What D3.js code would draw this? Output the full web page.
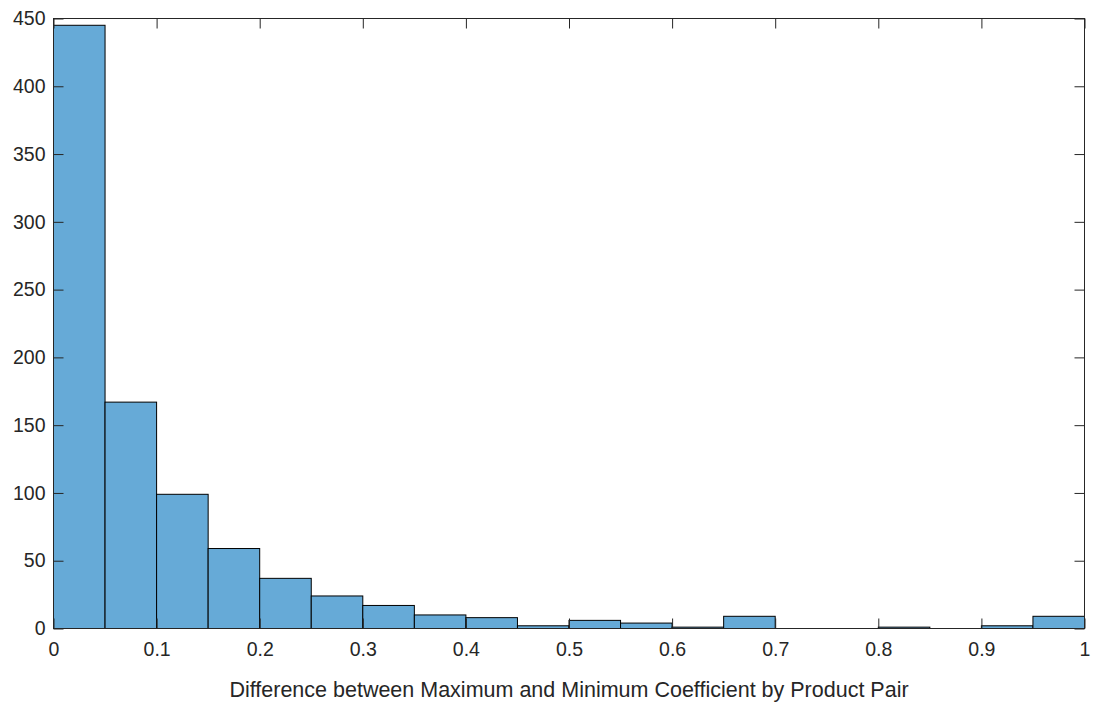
<!DOCTYPE html>
<html>
<head>
<meta charset="utf-8">
<script src="https://cdnjs.cloudflare.com/ajax/libs/d3/7.8.5/d3.min.js"></script>
<style>
body { margin: 0; background: #fff; }
text { font-family: "Liberation Sans", Arial, sans-serif; fill: #262626; }
</style>
</head>
<body>
<div id="chart"></div>
<script>
// histogram bins (width 0.05) and counts
var binEdges = [0, 0.05, 0.1, 0.15, 0.2, 0.25, 0.3, 0.35, 0.4, 0.45, 0.5,
                0.55, 0.6, 0.65, 0.7, 0.75, 0.8, 0.85, 0.9, 0.95, 1];
var counts = [445, 167, 99, 59, 37, 24, 17, 10, 8, 2, 6, 4, 1, 9, 0, 0, 1, 0, 2, 9];
var xTicks = [0, 0.1, 0.2, 0.3, 0.4, 0.5, 0.6, 0.7, 0.8, 0.9, 1];
var yTicks = [0, 50, 100, 150, 200, 250, 300, 350, 400, 450];
var xLabel = "Difference between Maximum and Minimum Coefficient by Product Pair";

function drawHist() {
    var w = 1093, h = 704;
    var pL = 53.5, pR = 1084.5, pT = 18.5, pB = 628.5;
    var axisColor = "#262626";
    var tickLen = 10;

    var svg = d3.select("#chart")
        .append("svg")
        .attr("width", w)
        .attr("height", h);

    var x = d3.scaleLinear().domain([0, 1]).range([pL, pR]);
    var y = d3.scaleLinear().domain([0, 450]).range([pB, pT]);

    var bins = counts.map(function (c, i) {
        return { x0: binEdges[i], x1: binEdges[i + 1], n: c };
    });

    // bars
    svg.selectAll("rect.bar")
        .data(bins)
        .enter()
        .append("rect")
        .attr("class", "bar")
        .attr("x", function (d) { return x(d.x0); })
        .attr("y", function (d) { return y(d.n); })
        .attr("width", function (d) { return x(d.x1) - x(d.x0); })
        .attr("height", function (d) { return y(0) - y(d.n); })
        .attr("fill", "#66aad7")
        .attr("stroke", "#000")
        .attr("stroke-width", 1);

    // box
    svg.append("rect")
        .attr("x", pL)
        .attr("y", pT)
        .attr("width", pR - pL)
        .attr("height", pB - pT)
        .attr("fill", "none")
        .attr("stroke", axisColor)
        .attr("stroke-width", 1);

    // x axis (bottom), ticks point inward
    var gx = svg.append("g")
        .attr("transform", "translate(0," + pB + ")")
        .call(d3.axisBottom(x)
            .tickValues(xTicks)
            .tickSize(-tickLen)
            .tickPadding(14)
            .tickFormat(function (d) { return d3.format("")(d); }));
    gx.select(".domain").remove();
    gx.selectAll("line").attr("stroke", axisColor);
    gx.selectAll("text").style("font-size", "19.5px").attr("fill", axisColor);

    // top ticks
    var gt = svg.append("g")
        .attr("transform", "translate(0," + pT + ")")
        .call(d3.axisTop(x).tickValues(xTicks).tickSize(-tickLen).tickFormat(""));
    gt.select(".domain").remove();
    gt.selectAll("line").attr("stroke", axisColor);

    // y axis (left)
    var gy = svg.append("g")
        .attr("transform", "translate(" + pL + ",0)")
        .call(d3.axisLeft(y)
            .tickValues(yTicks)
            .tickSize(-tickLen)
            .tickPadding(8));
    gy.select(".domain").remove();
    gy.selectAll("line").attr("stroke", axisColor);
    gy.selectAll("text").style("font-size", "19.5px").attr("fill", axisColor);

    // right ticks
    var gr = svg.append("g")
        .attr("transform", "translate(" + pR + ",0)")
        .call(d3.axisRight(y).tickValues(yTicks).tickSize(-tickLen).tickFormat(""));
    gr.select(".domain").remove();
    gr.selectAll("line").attr("stroke", axisColor);

    // x label
    svg.append("text")
        .attr("x", (pL + pR) / 2)
        .attr("y", 697)
        .attr("text-anchor", "middle")
        .style("font-size", "21.5px")
        .text(xLabel);
}

drawHist();
</script>
</body>
</html>
